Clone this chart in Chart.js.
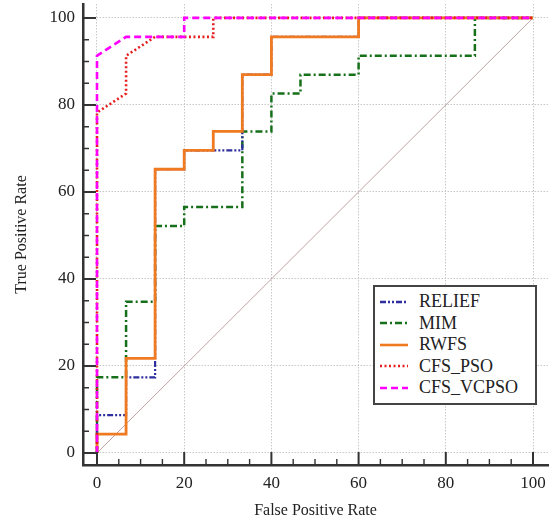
<!DOCTYPE html>
<html>
<head>
<meta charset="utf-8">
<script src="https://cdn.jsdelivr.net/npm/chart.js@4.4.1/dist/chart.umd.min.js"></script>
<style>
  html, body { margin: 0; padding: 0; background: #fff; }
  #wrap { position: relative; width: 552px; height: 524px; }
  #legend {
    position: absolute; left: 373px; top: 285px; width: 164px; height: 120px;
    box-sizing: border-box; border: 2px solid #444; background: #fff;
    padding-top: 4px;
    font-family: "Liberation Serif", "Times New Roman", serif; font-size: 18px; color: #222;
  }
  .row { height: 21.5px; display: flex; align-items: center; }
  .row svg { margin-left: 5px; width: 28px; height: 6px; }
  .row span { margin-left: 11px; }
</style>
</head>
<body>
<div id="wrap">
  <canvas id="roc" width="552" height="524"></canvas>
  <div id="legend"></div>
</div>
<script>
// ── Data (% rates) ───────────────────────────────────────────────────────────
const tickValues = [0, 20, 40, 60, 80, 100];

const reliefFpr = [0, 0, 6.67, 6.67, 13.33, 13.33, 20, 20, 33.33, 33.33, 40, 40, 60, 60, 100];
const reliefTpr = [0, 8.7, 8.7, 17.39, 17.39, 65.22, 65.22, 69.57, 69.57, 86.96, 86.96, 95.65, 95.65, 100, 100];

const mimFpr = [0, 0, 6.67, 6.67, 13.33, 13.33, 20, 20, 33.33, 33.33, 40, 40, 46.67, 46.67, 60, 60, 86.67, 86.67, 100];
const mimTpr = [0, 17.39, 17.39, 34.78, 34.78, 52.17, 52.17, 56.52, 56.52, 73.91, 73.91, 82.61, 82.61, 86.96, 86.96, 91.3, 91.3, 100, 100];

const rwfsFpr = [0, 0, 6.67, 6.67, 13.33, 13.33, 20, 20, 26.67, 26.67, 33.33, 33.33, 40, 40, 60, 60, 100];
const rwfsTpr = [0, 4.35, 4.35, 21.74, 21.74, 65.22, 65.22, 69.57, 69.57, 73.91, 73.91, 86.96, 86.96, 95.65, 95.65, 100, 100];

const psoFpr = [0, 0, 6.67, 6.67, 13.33, 26.67, 26.67, 100];
const psoTpr = [0, 78.26, 82.61, 91.3, 95.65, 95.65, 100, 100];

const vcpsoFpr = [0, 0, 6.67, 20, 20, 100];
const vcpsoTpr = [0, 91.3, 95.65, 95.65, 100, 100];

const chanceFpr = [0, 100];
const chanceTpr = [0, 100];

// ── Helpers ──────────────────────────────────────────────────────────────────
const SERIF = '"Liberation Serif", "Times New Roman", serif';

function pts(xs, ys) {
  return xs.map((x, i) => ({ x, y: ys[i] }));
}

function series(label, xs, ys, color, dash, width, order) {
  return { label, data: pts(xs, ys), borderColor: color, borderDash: dash,
           borderWidth: width, pointRadius: 0, tension: 0, showLine: true,
           fill: false, order };
}

const datasets = [
  series('RELIEF',    reliefFpr, reliefTpr, '#2e2e9e', [6, 2, 2, 2, 2, 2], 2.2, 4),
  series('MIM',       mimFpr,    mimTpr,    '#16701a', [7, 3, 2, 3],       2.5, 5),
  series('RWFS',      rwfsFpr,   rwfsTpr,   '#f07a22', [],                 2.8, 3),
  series('CFS_PSO',   psoFpr,    psoTpr,    '#e61e1e', [2, 2.5],           2.6, 2),
  series('CFS_VCPSO', vcpsoFpr,  vcpsoTpr,  '#ff00ff', [7, 4],             2.6, 1),
  { label: 'chance', data: pts(chanceFpr, chanceTpr), borderColor: '#bfa3a3',
    borderWidth: 1, pointRadius: 0, showLine: true, order: 6, legend: false }
];

// ── Inward major / minor tick marks ──────────────────────────────────────────
const MINOR_STEP = 5;
const tickMarks = {
  id: 'tickMarks',
  afterDraw(chart) {
    const { ctx, chartArea, scales: { x, y } } = chart;
    ctx.save();
    ctx.strokeStyle = '#333';
    for (let v = tickValues[0]; v <= tickValues[tickValues.length - 1]; v += MINOR_STEP) {
      const major = tickValues.includes(v);
      const len = major ? 13 : 6;
      ctx.lineWidth = major ? 2 : 1.4;
      const px = x.getPixelForValue(v);
      const py = y.getPixelForValue(v);
      ctx.beginPath();
      ctx.moveTo(px, chartArea.bottom); ctx.lineTo(px, chartArea.bottom - len);
      ctx.moveTo(chartArea.left, py);   ctx.lineTo(chartArea.left + len, py);
      ctx.stroke();
    }
    ctx.restore();
  }
};

// fixed axis box, no automatic label padding
function fixBox(prop, size) {
  return s => {
    s[prop] = size;
    s.paddingTop = s.paddingBottom = s.paddingLeft = s.paddingRight = 0;
  };
}

function axis(min, max, title, titlePad, fit) {
  return {
    type: 'linear', min, max,
    afterBuildTicks: s => { s.ticks = tickValues.map(v => ({ value: v })); },
    afterFit: fit,
    grid: { color: '#c8c8c8', lineWidth: 1, drawTicks: false },
    border: { display: true, color: '#333', width: 2.5, dash: [1.5, 1.5] },
    ticks: { color: '#222', font: { family: SERIF, size: 17 }, padding: 8 },
    title: { display: true, text: title, color: '#222',
             font: { family: SERIF, size: 16 }, padding: titlePad }
  };
}

// ── Chart ────────────────────────────────────────────────────────────────────
new Chart(document.getElementById('roc'), {
  type: 'scatter',
  data: { datasets },
  options: {
    animation: false,
    responsive: false,
    devicePixelRatio: 1,
    layout: { padding: { top: 4, right: 4, left: 0, bottom: 0 } },
    plugins: { legend: { display: false }, tooltip: { enabled: false } },
    scales: {
      x: axis(-3.21, 103.44, 'False Positive Rate', { top: 0, bottom: 4 }, fixBox('height', 59)),
      y: axis(-2.76, 103.2,  'True Positive Rate',  { top: 12, bottom: 0 }, fixBox('width', 83))
    }
  },
  plugins: [tickMarks]
});

// ── Legend ───────────────────────────────────────────────────────────────────
const legendEl = document.getElementById('legend');
datasets.filter(d => d.legend !== false).forEach(d => {
  const row = document.createElement('div');
  row.className = 'row';
  row.innerHTML =
    `<svg viewBox="0 0 28 6"><line x1="0" y1="3" x2="28" y2="3" stroke="${d.borderColor}"
       stroke-width="2.6" stroke-dasharray="${d.borderDash.join(' ') || 'none'}"/></svg>` +
    `<span>${d.label}</span>`;
  legendEl.appendChild(row);
});
</script>
</body>
</html>
